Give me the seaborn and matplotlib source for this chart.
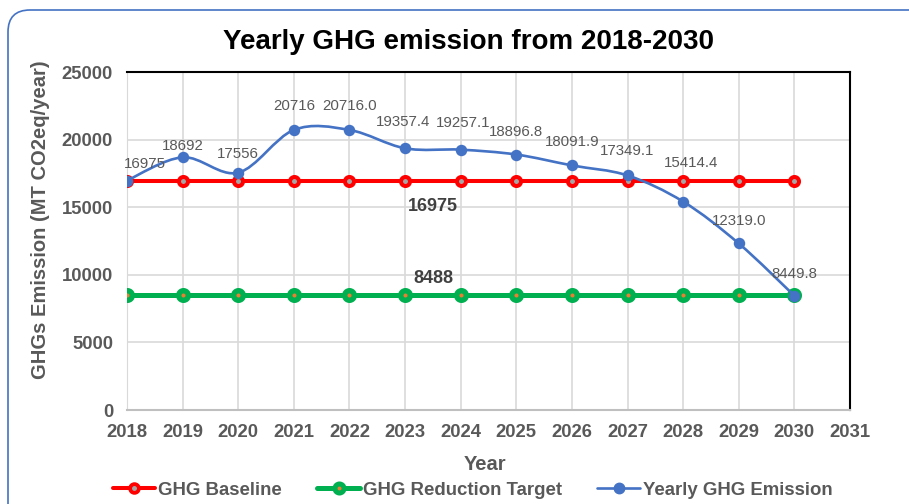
import numpy as np
import pandas as pd
import matplotlib
matplotlib.use("Agg")
import matplotlib.pyplot as plt
import seaborn as sns
from matplotlib.path import Path
from matplotlib.patches import PathPatch, FancyBboxPatch
from matplotlib.lines import Line2D
from matplotlib.transforms import IdentityTransform

# data
years = [2018, 2019, 2020, 2021, 2022, 2023, 2024, 2025, 2026, 2027, 2028, 2029, 2030]
baseline = [16975] * 13
target = [8488] * 13
emission = [16975, 18692, 17556, 20716, 20716.0, 19357.4, 19257.1, 18896.8,
            18091.9, 17349.1, 15414.4, 12319.0, 8449.8]
emission_labels = ["16975", "18692", "17556", "20716", "20716.0", "19357.4", "19257.1",
                   "18896.8", "18091.9", "17349.1", "15414.4", "12319.0", "8449.8"]

# label placement (pixels) relative to each point
label_dx = [18, 0, 0, 0, 0, -2, 2, 0, 0, 0, 8, 0, 0]
label_dy = [17, 11, 19, 24, 24, 26, 27, 23, 23, 24, 39, 22, 22]

df = pd.DataFrame({"Year": years, "baseline": baseline, "target": target, "emission": emission})

sns.set_style("white")
plt.rcParams["font.family"] = ["Liberation Sans", "DejaVu Sans"]

gray = "#595959"
red = "#FF0000"
green = "#00B050"
blue = "#4472C4"

fig = plt.figure(figsize=(9.09, 5.04), dpi=100)
fig.patch.set_facecolor("white")

# rounded border of the chart area (pixel coords, runs off right/bottom)
border = FancyBboxPatch((8, -60), 1000, 554,
                        boxstyle="round,pad=0,rounding_size=22",
                        transform=IdentityTransform(), facecolor="none",
                        edgecolor=blue, linewidth=1.2, clip_on=False)
fig.patches.append(border)

ax = fig.add_axes([0.1397, 0.1865, 0.7954, 0.6706])

sns.lineplot(data=df, x="Year", y="baseline", ax=ax, color=red, linewidth=2.9,
             marker="o", markersize=6.5, markerfacecolor="#A5A5A5",
             markeredgecolor=red, markeredgewidth=2.9, zorder=3)
sns.lineplot(data=df, x="Year", y="target", ax=ax, color=green, linewidth=3.6,
             marker="o", markersize=6.9, markerfacecolor="#ED7D31",
             markeredgecolor=green, markeredgewidth=3.9, zorder=3)

# smoothed curve (Catmull-Rom style bezier, as Excel draws it)
pts = np.column_stack([df["Year"], df["emission"]]).astype(float)
verts = [tuple(pts[0])]
codes = [Path.MOVETO]
n = len(pts)
for i in range(n - 1):
    p0 = pts[max(i - 1, 0)]
    p1 = pts[i]
    p2 = pts[i + 1]
    p3 = pts[min(i + 2, n - 1)]
    c1 = p1 + (p2 - p0) / 6
    c2 = p2 - (p3 - p1) / 6
    verts += [tuple(c1), tuple(c2), tuple(p2)]
    codes += [Path.CURVE4] * 3
ax.add_patch(PathPatch(Path(verts, codes), facecolor="none", edgecolor=blue,
                       linewidth=1.9, zorder=4))
sns.scatterplot(data=df, x="Year", y="emission", ax=ax, color=blue, s=68,
                edgecolor=blue, linewidth=0, zorder=5)

for i, (x, y) in enumerate(zip(years, emission)):
    ax.annotate(emission_labels[i], (x, y),
                xytext=(label_dx[i] * 0.72, label_dy[i] * 0.72), textcoords="offset points",
                ha="center", va="center", fontsize=10.8, color=gray, zorder=6)

ax.text(2023.5, 15050, "16975", ha="center", va="center", fontsize=13,
        fontweight="bold", color="#404040")
ax.text(2023.5, 9750, "8488", ha="center", va="center", fontsize=13,
        fontweight="bold", color="#404040")

ax.set_xlim(2018, 2031)
ax.set_ylim(0, 25000)
ax.set_xticks(range(2018, 2032))
ax.set_yticks(range(0, 25001, 5000))
ax.grid(True, color="#D9D9D9", linewidth=1.2)
ax.set_axisbelow(True)
ax.tick_params(axis="both", length=0, labelsize=13.3, labelcolor=gray, pad=10)
for lbl in ax.get_xticklabels() + ax.get_yticklabels():
    lbl.set_fontweight("bold")

ax.spines["top"].set_color("black")
ax.spines["right"].set_color("black")
ax.spines["top"].set_linewidth(1.5)
ax.spines["right"].set_linewidth(1.5)
ax.spines["left"].set_color("#D9D9D9")
ax.spines["bottom"].set_color("#BFBFBF")
ax.spines["bottom"].set_linewidth(1.5)

ax.set_xlabel("Year", fontsize=14.5, fontweight="bold", color=gray)
ax.set_ylabel("GHGs Emission (MT CO2eq/year)", fontsize=14.5, fontweight="bold",
              color=gray)
ax.xaxis.set_label_coords(0.495, -0.133)
ax.yaxis.set_label_coords(-0.1065, 0.562)
fig.text(0.515, 0.917, "Yearly GHG emission from 2018-2030", ha="center", va="center",
         fontsize=20, fontweight="bold", color="black")

handles = [
    Line2D([0], [0], color=red, linewidth=2.9, marker="o", markersize=6.3,
           markerfacecolor="#A5A5A5", markeredgecolor=red, markeredgewidth=2.7),
    Line2D([0], [0], color=green, linewidth=3.6, marker="o", markersize=6.5,
           markerfacecolor="#ED7D31", markeredgecolor=green, markeredgewidth=3.6),
    Line2D([0], [0], color=blue, linewidth=1.9, marker="o", markersize=7.5,
           markerfacecolor=blue, markeredgecolor=blue),
]
leg = fig.legend(handles, ["GHG Baseline", "GHG Reduction Target", "Yearly GHG Emission"],
                 loc="center", bbox_to_anchor=(0.52, 0.027), ncol=3, frameon=False,
                 handlelength=2.3, handletextpad=0.15, columnspacing=1.9,
                 prop={"size": 13.4, "weight": "bold"})
for t in leg.get_texts():
    t.set_color(gray)

fig.savefig("out.png", dpi=100, facecolor="white")
